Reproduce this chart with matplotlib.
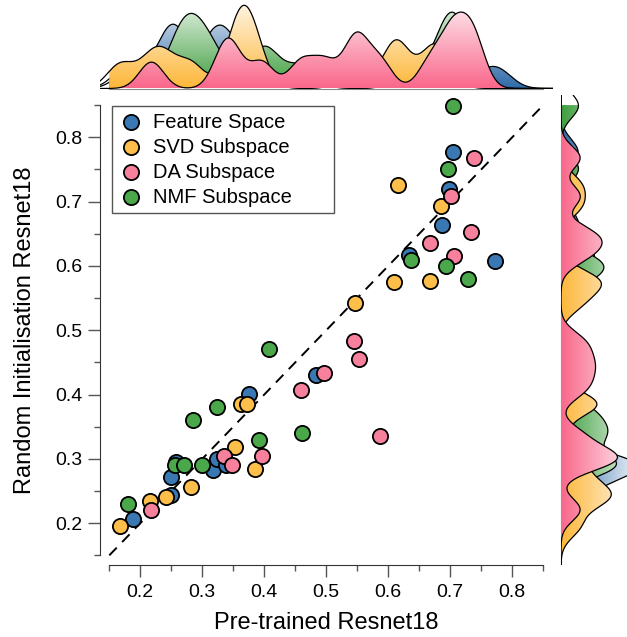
import numpy as np
import matplotlib
matplotlib.use('Agg')
import matplotlib.pyplot as plt
from matplotlib.colors import LinearSegmentedColormap, to_rgb
from matplotlib.ticker import FixedLocator

plt.rcParams['font.family'] = ['Liberation Sans', 'DejaVu Sans']

# data
labels = ['Feature Space', 'SVD Subspace', 'DA Subspace', 'NMF Subspace']
colors = ['#3a78b4', '#fdbf4a', '#f7819d', '#4aa84b']
kde_colors = ['#2f6aa8', '#fdb73a', '#f9678b', '#3e9e3e']

feat_x = [0.188, 0.249, 0.250, 0.258, 0.317, 0.324, 0.338, 0.375, 0.483, 0.633, 0.687, 0.698, 0.705, 0.772]
feat_y = [0.207, 0.244, 0.272, 0.295, 0.282, 0.300, 0.291, 0.401, 0.430, 0.617, 0.663, 0.720, 0.777, 0.608]

svd_x = [0.168, 0.216, 0.241, 0.282, 0.353, 0.362, 0.372, 0.385, 0.546, 0.609, 0.616, 0.667, 0.685]
svd_y = [0.196, 0.235, 0.241, 0.257, 0.319, 0.385, 0.385, 0.284, 0.543, 0.575, 0.726, 0.577, 0.693]

da_x = [0.218, 0.335, 0.348, 0.396, 0.459, 0.497, 0.544, 0.552, 0.587, 0.668, 0.701, 0.706, 0.733, 0.738]
da_y = [0.221, 0.305, 0.291, 0.304, 0.407, 0.433, 0.483, 0.456, 0.336, 0.636, 0.708, 0.615, 0.652, 0.768]

nmf_x = [0.180, 0.256, 0.271, 0.285, 0.299, 0.324, 0.391, 0.408, 0.460, 0.636, 0.693, 0.696, 0.705, 0.728]
nmf_y = [0.230, 0.290, 0.290, 0.360, 0.290, 0.380, 0.330, 0.470, 0.340, 0.609, 0.600, 0.751, 0.849, 0.579]

xs = [feat_x, svd_x, da_x, nmf_x]
ys = [feat_y, svd_y, da_y, nmf_y]
n_total = sum(len(v) for v in xs)

lim = (0.135, 0.865)
lo, hi = 0.15, 0.85


def kde(vals, grid, adj=0.2):
    v = np.asarray(vals)
    bw = adj * len(v) ** (-0.2) * v.std(ddof=1)
    z = (grid[:, None] - v[None, :]) / bw
    return np.exp(-0.5 * z ** 2).sum(1) / (bw * np.sqrt(2 * np.pi)) / n_total


def grad_cmap(c):
    base = np.array(to_rgb(c))
    light = base + (1 - base) * 0.9
    return LinearSegmentedColormap.from_list('g', [base, light])


W, H = 627, 637
fig = plt.figure(figsize=(W / 100, H / 100), dpi=100)
ax = fig.add_axes([100 / W, 1 - 565 / H, 452.6 / W, 469.6 / H])
ax_top = fig.add_axes([100 / W, 1 - 88.5 / H, 452.6 / W, 88.5 / H])
ax_right = fig.add_axes([561 / W, 1 - 565 / H, 66 / W, 469.6 / H])

# scatter
ax.plot([lo, hi], [lo, hi], color='black', lw=1.4, dashes=(5.5, 4), zorder=1)
for x, y, c, lab in zip(xs, ys, colors, labels):
    ax.scatter(x, y, s=120, color=c, edgecolor='black', linewidths=1.3, zorder=3, label=lab)

ax.set_xlim(lim)
ax.set_ylim(lim)
for s in ['top', 'right']:
    ax.spines[s].set_visible(False)
for s in ['left', 'bottom']:
    ax.spines[s].set_bounds(lo, hi)
    ax.spines[s].set_color('#333333')
ticks = [0.2, 0.3, 0.4, 0.5, 0.6, 0.7, 0.8]
ax.set_xticks(ticks)
ax.set_yticks(ticks)
minor = [0.15, 0.25, 0.35, 0.45, 0.55, 0.65, 0.75, 0.85]
ax.xaxis.set_minor_locator(FixedLocator(minor))
ax.yaxis.set_minor_locator(FixedLocator(minor))
ax.tick_params(which='major', length=8.5, width=1, color='#555555', labelsize=14)
ax.tick_params(which='minor', length=4, width=1, color='#555555')
ax.tick_params(axis='x', which='major', pad=5)
ax.tick_params(axis='y', which='major', pad=4)
ax.set_xlabel('Pre-trained Resnet18', fontsize=17, labelpad=8)
ax.set_ylabel('Random Initialisation Resnet18', fontsize=17, labelpad=14)

leg = ax.legend(loc='upper left', bbox_to_anchor=(0.026, 0.5, 0.491, 0.477), mode='expand',
                borderaxespad=0, fancybox=False, edgecolor='#555555', framealpha=1,
                fontsize=14.5, handletextpad=0.45, labelspacing=0.3, borderpad=0.32,
                handlelength=1.3)
leg.get_frame().set_linewidth(1.0)

# marginal KDEs
grid = np.linspace(lim[0], lim[1], 600)
fill_grid = np.linspace(lo, hi, 600)
dx = [kde(v, fill_grid) for v in xs]
dy = [kde(v, fill_grid, adj=0.17) for v in ys]
top_max = max(d.max() for d in dx) / 0.94

for i, order in enumerate([0, 3, 1, 2]):
    c = kde_colors[order]
    cmap = grad_cmap(c)
    z = 1 + i

    poly = ax_top.fill_between(fill_grid, 0, dx[order], facecolor='none', edgecolor='none', zorder=z)
    im = ax_top.imshow(np.linspace(0, 1, 256).reshape(-1, 1), cmap=cmap, origin='lower',
                       extent=[lo, hi, 0, top_max], aspect='auto', zorder=z)
    im.set_clip_path(poly.get_paths()[0], transform=ax_top.transData)
    ax_top.plot(grid, kde(xs[order], grid), color='black', lw=0.9, zorder=z + 0.5)

    poly = ax_right.fill_betweenx(fill_grid, 0, dy[order], facecolor='none', edgecolor='none', zorder=z)
    im = ax_right.imshow(np.linspace(0, 1, 256).reshape(1, -1), cmap=cmap, origin='lower',
                         extent=[0, top_max * 1.3, lo, hi], aspect='auto', zorder=z)
    im.set_clip_path(poly.get_paths()[0], transform=ax_right.transData)
    ax_right.plot(kde(ys[order], grid, adj=0.17), grid, color='black', lw=0.9, zorder=z + 0.5)

ax_top.set_xlim(lim)
ax_top.set_ylim(0, top_max)
ax_right.set_ylim(lim)
ax_right.set_xlim(0, top_max * 1.15)
for a in [ax_top, ax_right]:
    a.set_xticks([])
    a.set_yticks([])
    for s in a.spines.values():
        s.set_visible(False)
ax_top.spines['bottom'].set_visible(True)
ax_top.spines['bottom'].set_bounds(lo, hi)
ax_top.spines['bottom'].set_color('#888888')
ax_right.spines['left'].set_visible(True)
ax_right.spines['left'].set_bounds(0.137, hi)
ax_right.spines['left'].set_color('#888888')

fig.savefig('out.png', dpi=100)
